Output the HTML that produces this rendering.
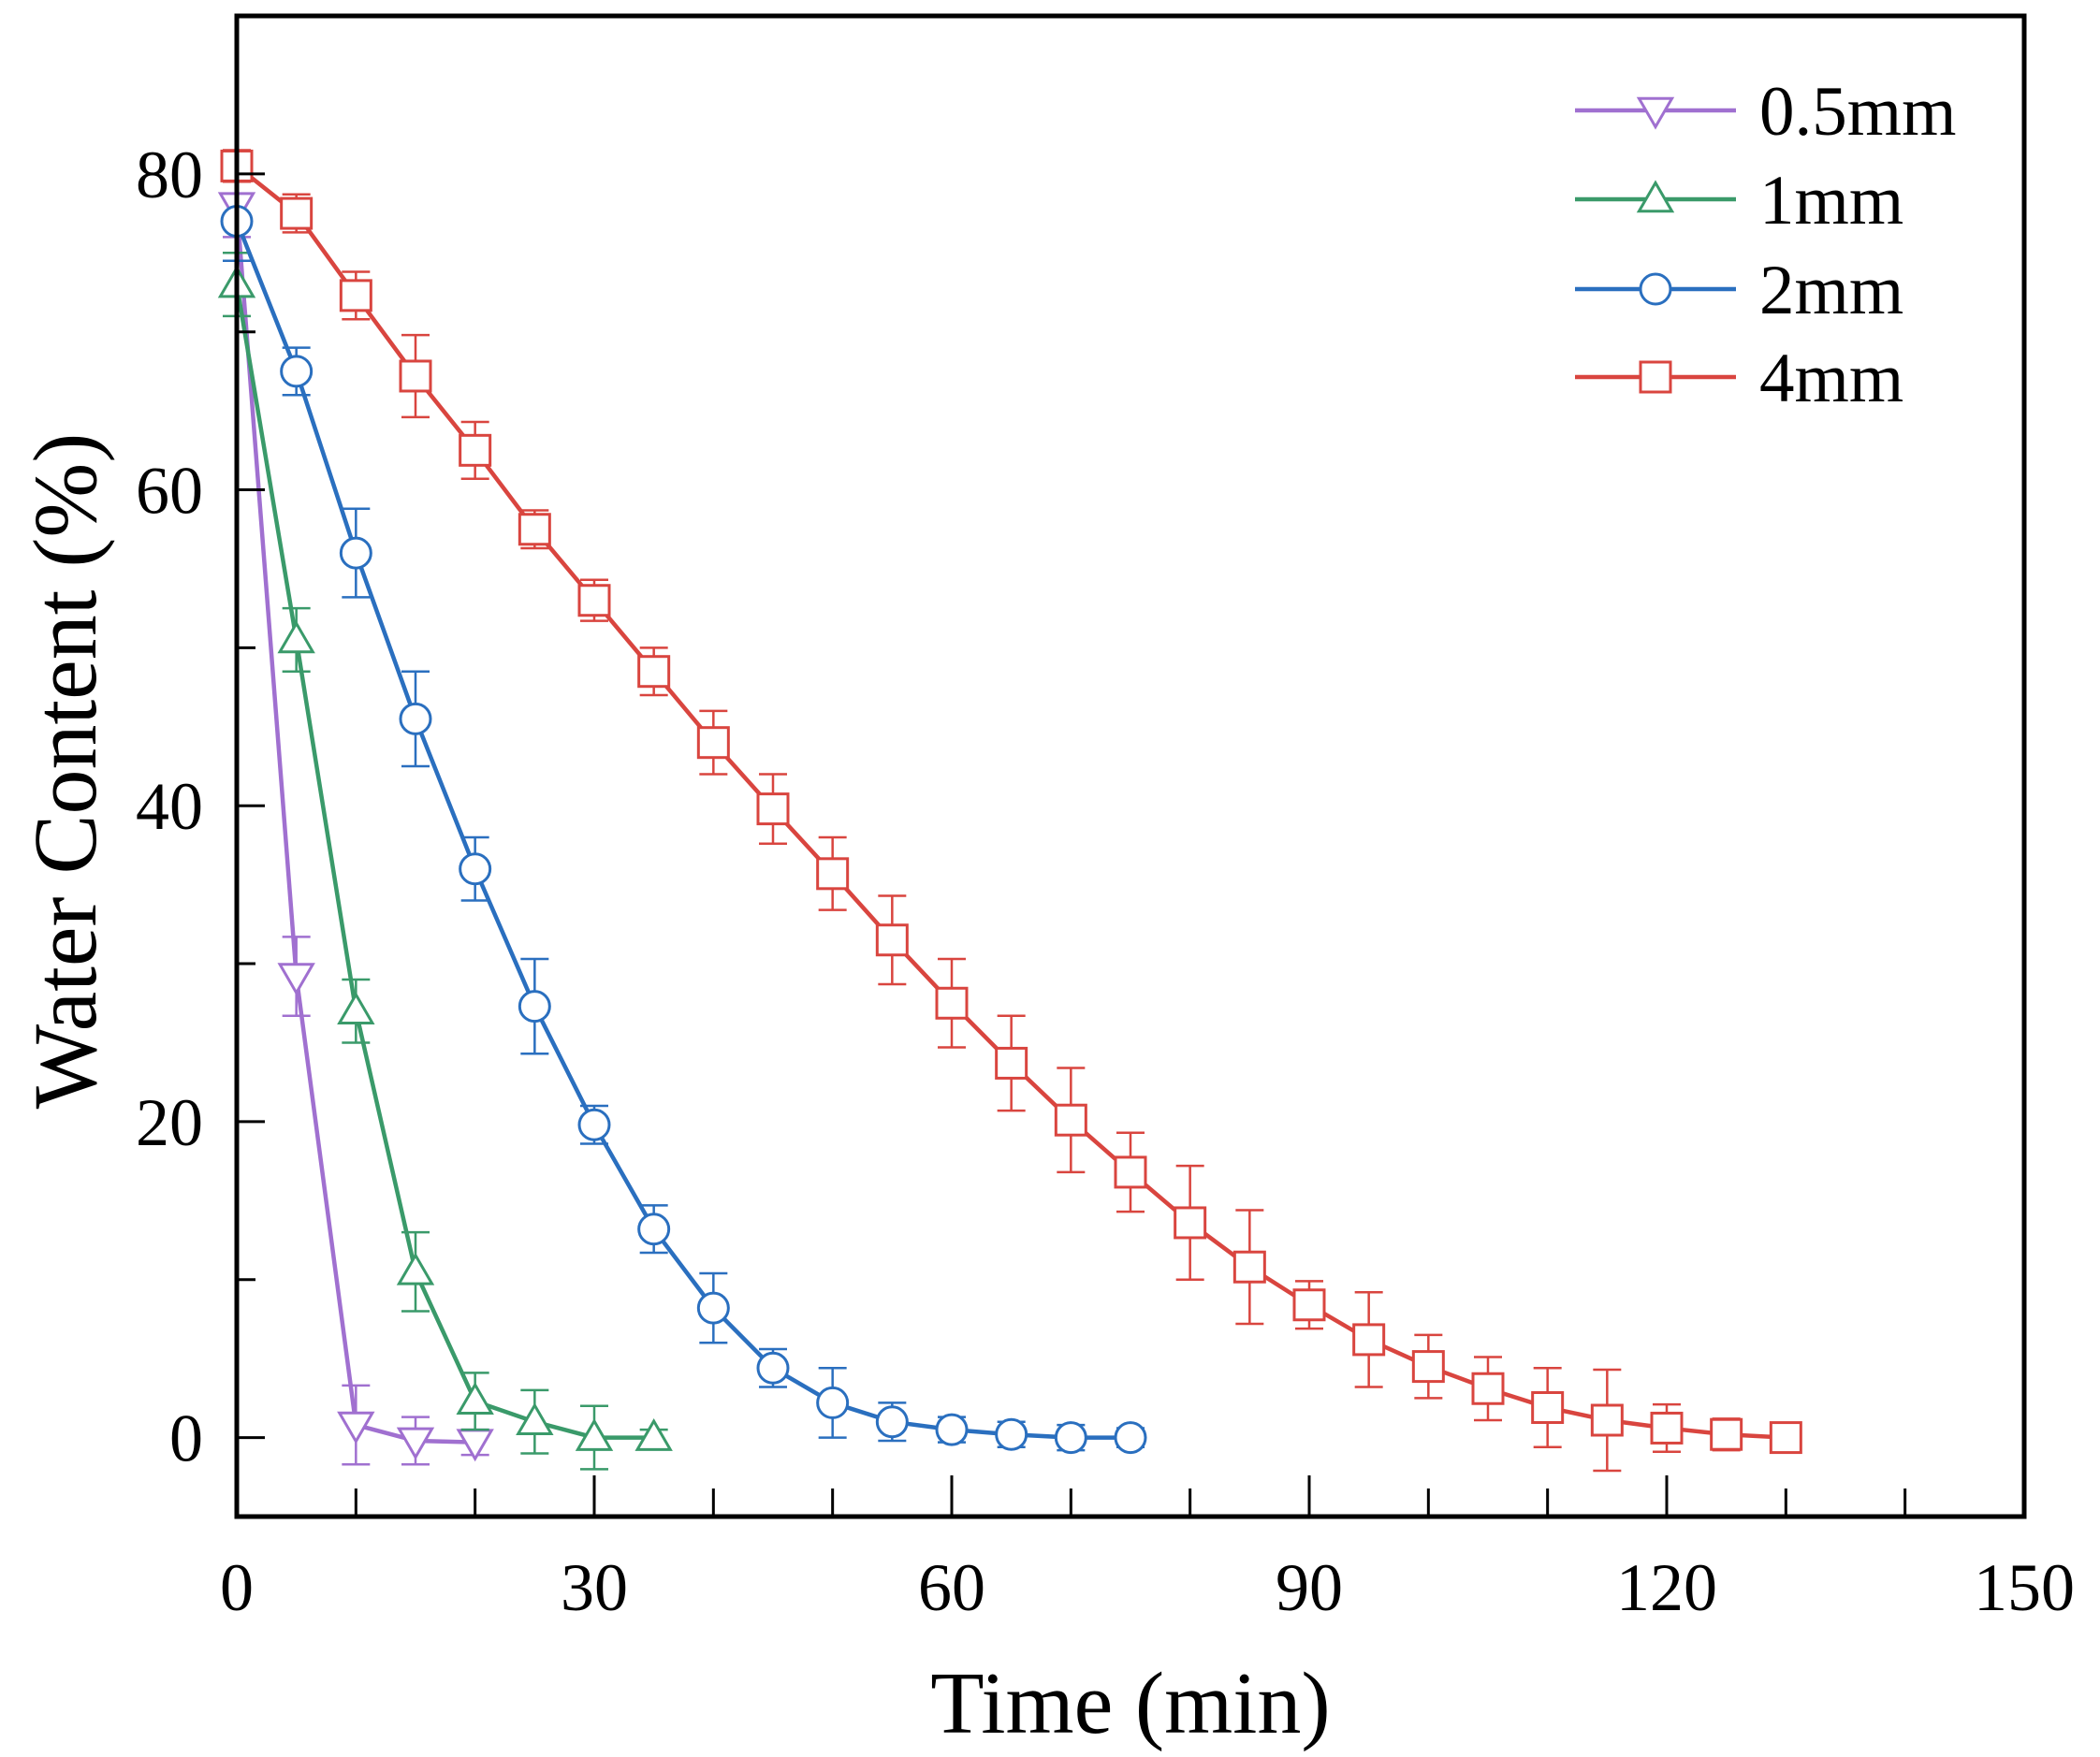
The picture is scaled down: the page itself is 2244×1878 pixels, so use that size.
<!DOCTYPE html>
<html><head><style>html,body{margin:0;padding:0;background:#fff}svg{display:block}</style></head>
<body>
<svg id="s" width="2244" height="1878" xmlns="http://www.w3.org/2000/svg" font-family="Liberation Serif, serif"></svg>
<script>
const S=document.getElementById('s');
const L=253,R=2163,T=17,B=1621;
const X=t=>L+t*(R-L)/150, Y=v=>B-(v+5)*16.884;
let h='';
const ser=[
 {c:'#a070d0',m:'tdown',d:[[0,78,2],[5,29.2,2.5],[10,0.8,2.5],[15,-0.2,1.5],[20,-0.3,0.8]]},
 {c:'#3a9a6a',m:'tup',d:[[0,73,2],[5,50.5,2],[10,27,2],[15,10.5,2.5],[20,2.3,1.8],[25,1,2],[30,0,2],[35,0,0.5]]},
 {c:'#2a6fbf',m:'circ',d:[[0,77,2.5],[5,67.5,1.5],[10,56,2.8],[15,45.5,3],[20,36,2],[25,27.3,3],[30,19.8,1.2],[35,13.2,1.5],[40,8.2,2.2],[45,4.4,1.2],[50,2.2,2.2],[55,1,1.2],[60,0.5,0.8],[65,0.2,0.8],[70,0,0.8],[75,0,0.6]]},
 {c:'#d9453f',m:'sq',d:[[0,80.5,1],[5,77.5,1.2],[10,72.3,1.5],[15,67.2,2.6],[20,62.5,1.8],[25,57.5,1.2],[30,53,1.3],[35,48.5,1.5],[40,44,2],[45,39.8,2.2],[50,35.7,2.3],[55,31.5,2.8],[60,27.5,2.8],[65,23.7,3],[70,20.1,3.3],[75,16.8,2.5],[80,13.6,3.6],[85,10.8,3.6],[90,8.4,1.5],[95,6.2,3],[100,4.5,2],[105,3.1,2],[110,1.9,2.5],[115,1.1,3.2],[120,0.6,1.5],[125,0.2,1],[130,0,0.5]]}
];
function mk(m,x,y,c,r=16){
 if(m=='sq')return `<rect x="${x-r}" y="${y-r}" width="${2*r}" height="${2*r}" fill="#fff" stroke="${c}" stroke-width="3"/>`;
 if(m=='circ')return `<ellipse cx="${x}" cy="${y}" rx="${r}" ry="${r}" fill="#fff" stroke="${c}" stroke-width="3"/>`;
 if(m=='tup')return `<polygon points="${x},${y-r*1.1} ${x-r*1.1},${y+r*0.8} ${x+r*1.1},${y+r*0.8}" fill="#fff" stroke="${c}" stroke-width="3"/>`;
 return `<polygon points="${x},${y+r*1.1} ${x-r*1.1},${y-r*0.8} ${x+r*1.1},${y-r*0.8}" fill="#fff" stroke="${c}" stroke-width="3"/>`;
}
for(const s of ser){
 h+=`<polyline fill="none" stroke="${s.c}" stroke-width="4.5" points="${s.d.map(p=>X(p[0])+','+Y(p[1])).join(' ')}"/>`;
 for(const p of s.d){const x=X(p[0]),y1=Y(p[1]+p[2]),y2=Y(p[1]-p[2]);
  h+=`<g stroke="${s.c}" stroke-width="2.5"><line x1="${x}" x2="${x}" y1="${y1}" y2="${y2}"/><line x1="${x-15}" x2="${x+15}" y1="${y1}" y2="${y1}"/><line x1="${x-15}" x2="${x+15}" y1="${y2}" y2="${y2}"/></g>`;}
 for(const p of s.d){h+=mk(s.m,X(p[0]),Y(p[1]),s.c);}
}
h+=`<rect x="${L}" y="${T}" width="${R-L}" height="${B-T}" fill="none" stroke="#000" stroke-width="5"/>`;
for(let t=0;t<=150;t+=10){const x=X(t),len=t%30==0?44:30;h+=`<line x1="${x}" x2="${x}" y1="${B}" y2="${B-len}" stroke="#000" stroke-width="3"/>`;
 if(t%30==0)h+=`<text x="${x}" y="${B+100}" font-size="72" text-anchor="middle">${t}</text>`;}
for(let v=0;v<=90;v+=10){const y=Y(v),len=v%20==0?30:20;h+=`<line x1="${L}" x2="${L+len}" y1="${y}" y2="${y}" stroke="#000" stroke-width="3"/>`;
 if(v%20==0&&v<=80)h+=`<text x="${L-36}" y="${y+25}" font-size="72" text-anchor="end">${v}</text>`;}
h+=`<text x="${(L+R)/2}" y="1852" font-size="94" text-anchor="middle">Time (min)</text>`;
h+=`<text transform="translate(102,${(T+B)/2+5}) rotate(-90)" font-size="96" text-anchor="middle">Water Content (%)</text>`;
const ly=[118,213,309,403],nm=['0.5mm','1mm','2mm','4mm'];
nm.forEach((n,i)=>{const s=ser[i],y=ly[i];
 h+=`<line x1="1683" x2="1855" y1="${y}" y2="${y}" stroke="${s.c}" stroke-width="4.5"/>`+mk(s.m,1769,y,s.c);
 h+=`<text x="1880" y="${y+26}" font-size="75">${n}</text>`;});
S.innerHTML=h;
</script>
</body></html>
